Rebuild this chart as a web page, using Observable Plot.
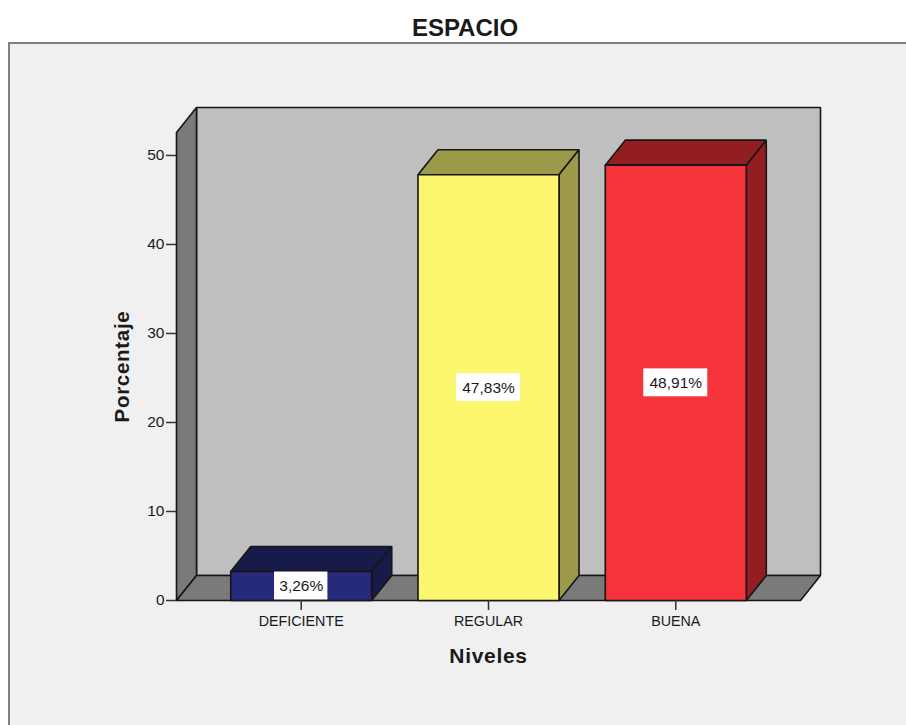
<!DOCTYPE html>
<html>
<head>
<meta charset="utf-8">
<script src="https://cdn.jsdelivr.net/npm/d3@7"></script>
<script src="https://cdn.jsdelivr.net/npm/@observablehq/plot@0.6"></script>
<style>
  html,body{margin:0;padding:0;background:#fff;overflow:hidden;width:906px;height:725px;}
  #title{position:absolute;left:24px;top:13px;width:882px;text-align:center;font:bold 24px "Liberation Sans",Arial,sans-serif;color:#1a1a1a;line-height:30px;}
  #panel{position:absolute;left:8px;top:42px;width:898px;height:683px;background:#f0f0f0;border-top:2px solid #808080;border-left:2px solid #808080;box-sizing:border-box;}
  #chart{position:absolute;left:-1px;top:42.7px;}
</style>
</head>
<body>
<div id="panel"></div>
<div id="title">ESPACIO</div>
<div id="chart"></div>
<script>
const categories = ["DEFICIENTE", "REGULAR", "BUENA"];
const values = [3.26, 47.83, 48.91];
const faceColors = ["#27297a", "#fcf76f", "#f5333a"];
const sideColors = ["#181a4a", "#9c9a4a", "#921e22"];
const yTicks = [0, 10, 20, 30, 40, 50];
const wallColor = "#bfbfbf";
const sideWallColor = "#7a7a7a";
const xDomain = [-0.666, 2.666];
const yDomain = [0, 52.58];
const barHalf = 0.3765;
const depthX = 0.1068;
const depthY = 2.81;

const polys = [];
function poly(fill, pts) {
  const id = polys.length ? polys[polys.length - 1].id + 1 : 0;
  [...pts, pts[0]].forEach(([x, y]) => polys.push({id, x, y, fill}));
}
const [x0, x1] = xDomain;
const yTop = yDomain[1];
poly(wallColor, [[x0 + depthX, depthY], [x1 + depthX, depthY], [x1 + depthX, yTop + depthY], [x0 + depthX, yTop + depthY]]);
poly(sideWallColor, [[x0, 0], [x0 + depthX, depthY], [x0 + depthX, yTop + depthY], [x0, yTop]]);
poly(sideWallColor, [[x0, 0], [x1, 0], [x1 + depthX, depthY], [x0 + depthX, depthY]]);
values.forEach((v, i) => {
  const a = i - barHalf, b = i + barHalf;
  poly(sideColors[i], [[a, v], [b, v], [b + depthX, v + depthY], [a + depthX, v + depthY]]);
  poly(sideColors[i], [[b, 0], [b + depthX, depthY], [b + depthX, v + depthY], [b, v]]);
  poly(faceColors[i], [[a, 0], [b, 0], [b, v], [a, v]]);
});

const labels = values.map((v, i) => ({
  i, v, text: v.toFixed(2).replace(".", ",") + "%"
}));
const boxHalfY = 1.57;

const chart = Plot.plot({
  width: 906,
  height: 682,
  marginLeft: 177,
  marginRight: 105,
  marginTop: 89,
  marginBottom: 125,
  style: {background: "transparent", overflow: "visible", fontFamily: "'Liberation Sans',Arial,sans-serif", color: "#1a1a1a"},
  x: {domain: xDomain},
  y: {domain: yDomain},
  marks: [
    Plot.line(polys, {x: "x", y: "y", z: "id", fill: "fill", stroke: "#161616", strokeWidth: 1.6, strokeLinejoin: "miter", curve: "linear"}),
    Plot.axisY({ticks: yTicks, tickSize: 10, tickPadding: 2, fontSize: 15.5, label: null, stroke: "#333", strokeWidth: 1.5}),
    Plot.axisX({ticks: [0, 1, 2], tickFormat: i => categories[i], tickSize: 10, tickPadding: 5.5, fontSize: 14.3, label: null, stroke: "#333", strokeWidth: 1.5}),
    Plot.rect(labels, {
      x1: d => d.i - d.text.length * 0.0285,
      x2: d => d.i + d.text.length * 0.0285,
      y1: d => Math.max(0, d.v / 2 - boxHalfY),
      y2: d => Math.min(d.v, d.v / 2 + boxHalfY),
      fill: "white"
    }),
    Plot.text(labels, {x: "i", y: d => d.v / 2, text: "text", fontSize: 15.5, fill: "#1a1a1a"}),
    Plot.text(["Porcentaje"], {frameAnchor: "left", textAnchor: "middle", lineAnchor: "middle", dx: -54, rotate: -90, fontSize: 20.5, fontWeight: "bold", fill: "#1a1a1a"}),
    Plot.text(["Niveles"], {frameAnchor: "bottom", dy: 56, lineAnchor: "middle", fontSize: 21, fontWeight: "bold", fill: "#1a1a1a"})
  ]
});
chart.querySelectorAll("text").forEach(t => { if (/Porcentaje|Niveles/.test(t.textContent)) t.style.letterSpacing = "0.7px"; });
document.getElementById("chart").appendChild(chart);
</script>
</body>
</html>
